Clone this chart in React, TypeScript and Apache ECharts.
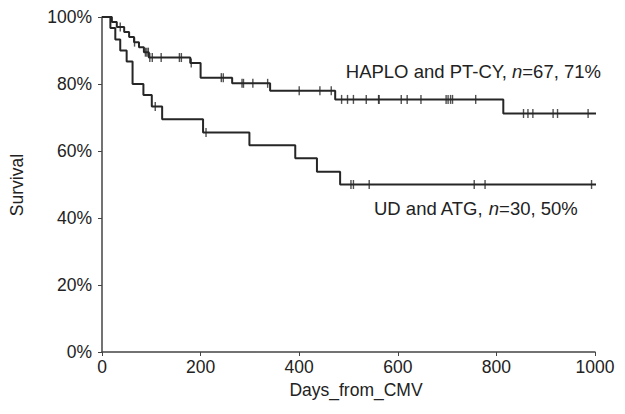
import { useEffect, useRef } from "react";
import * as echarts from "echarts";

// Kaplan–Meier step points: [day, survival %]
const haploSteps: [number, number][] = [
  [0, 100], [20, 98.5], [30, 97.0], [45, 95.5], [55, 94.0], [65, 92.5], [75, 91.0],
  [85, 89.5], [95, 87.9], [179, 86.3], [200, 81.9], [264, 80.2], [341, 78.0],
  [473, 75.4], [814, 71.2], [1013, 71.2],
];
const haploCensored: number[] = [
  37, 66, 88, 91, 94, 97, 102, 120, 157, 161, 181, 242, 246, 284, 287, 306, 336, 400,
  442, 465, 486, 498, 510, 536, 561, 562, 607, 619, 647, 698, 702, 707, 711, 758, 855,
  864, 874, 915, 924, 986,
];
const udSteps: [number, number][] = [
  [0, 100], [17, 96.7], [27, 93.3], [37, 90.0], [50, 86.7], [62, 80.0], [84, 76.7],
  [101, 73.3], [122, 69.5], [205, 65.5], [299, 61.7], [392, 57.8], [436, 53.8],
  [483, 50.0], [1013, 50.0],
];
const udCensored: number[] = [108, 211, 505, 510, 542, 755, 777, 993];

const xTicks = { min: 0, max: 1000, interval: 200 };
const yTicks = { min: 0, max: 100, interval: 20 };
const xTitle = "Days_from_CMV";
const yTitle = "Survival";

const FONT = "'Liberation Sans', Arial, Helvetica, sans-serif";
const INK = "#262626";

function levelAt(steps: [number, number][], t: number): number {
  let v = steps[0][1];
  for (const [d, s] of steps) {
    if (d <= t) v = s;
    else break;
  }
  return v;
}

export default function App() {
  const ref = useRef<HTMLDivElement>(null);
  useEffect(() => {
    if (!ref.current) return;
    const chart = echarts.init(ref.current, undefined, { renderer: "svg" });
    const lineStyle = { color: INK, width: 2 };
    const rich = {
      a: { fontSize: 18.5, fontFamily: FONT, fill: "#222" },
      i: { fontSize: 18.5, fontFamily: FONT, fill: "#222", fontStyle: "italic" },
    };
    chart.setOption({
      animation: false,
      backgroundColor: "#ffffff",
      grid: { left: 102, right: 30, top: 17, bottom: 62 },
      xAxis: {
        type: "value",
        ...xTicks,
        axisLine: { show: true, lineStyle: { color: "#444", width: 1.5 } },
        axisTick: { show: true, length: 4, lineStyle: { color: "#444", width: 1 } },
        axisLabel: {
          fontSize: 17.5, color: "#222", fontFamily: FONT, margin: 6,
          formatter: (v: number) => String(v),
        },
        splitLine: { show: false },
      },
      yAxis: {
        type: "value",
        ...yTicks,
        axisLine: { show: true, lineStyle: { color: "#444", width: 1.5 } },
        axisTick: { show: true, length: 4, lineStyle: { color: "#444", width: 1 } },
        axisLabel: { fontSize: 17.5, color: "#222", fontFamily: FONT, margin: 10, formatter: "{value}%" },
        splitLine: { show: false },
      },
      graphic: [
        {
          type: "text",
          x: 356,
          y: 390,
          style: { text: xTitle, fontSize: 17.5, fontFamily: FONT, fill: "#222", align: "center", verticalAlign: "middle" },
        },
        {
          type: "text",
          x: 17,
          y: 185,
          rotation: Math.PI / 2,
          style: { text: yTitle, fontSize: 17.5, fontFamily: FONT, fill: "#222", align: "center", verticalAlign: "middle" },
        },
        {
          type: "text",
          x: 601,
          y: 71,
          style: {
            text: "{a|HAPLO and PT-CY, }{i|n}{a|=67, 71%}",
            align: "right",
            verticalAlign: "middle",
            rich,
          },
        },
        {
          type: "text",
          x: 374,
          y: 208,
          style: {
            text: "{a|UD and ATG, }{i|n}{a|=30, 50%}",
            align: "left",
            verticalAlign: "middle",
            rich,
          },
        },
      ],
      series: [
        { type: "line", step: "end", data: haploSteps, showSymbol: false, clip: false, lineStyle, silent: true },
        { type: "line", step: "end", data: udSteps, showSymbol: false, clip: false, lineStyle, silent: true },
        {
          type: "scatter",
          data: haploCensored.map((t) => [t, levelAt(haploSteps, t)]),
          symbol: "rect",
          symbolSize: [1.4, 9],
          itemStyle: { color: INK },
          clip: false,
          silent: true,
        },
        {
          type: "scatter",
          data: udCensored.map((t) => [t, levelAt(udSteps, t)]),
          symbol: "rect",
          symbolSize: [1.4, 9],
          itemStyle: { color: INK },
          clip: false,
          silent: true,
        },
      ],
    });
    return () => chart.dispose();
  }, []);
  return (
    <div
      ref={ref}
      style={{ position: "fixed", left: 0, top: 0, width: 625, height: 414, background: "#fff" }}
    />
  );
}
